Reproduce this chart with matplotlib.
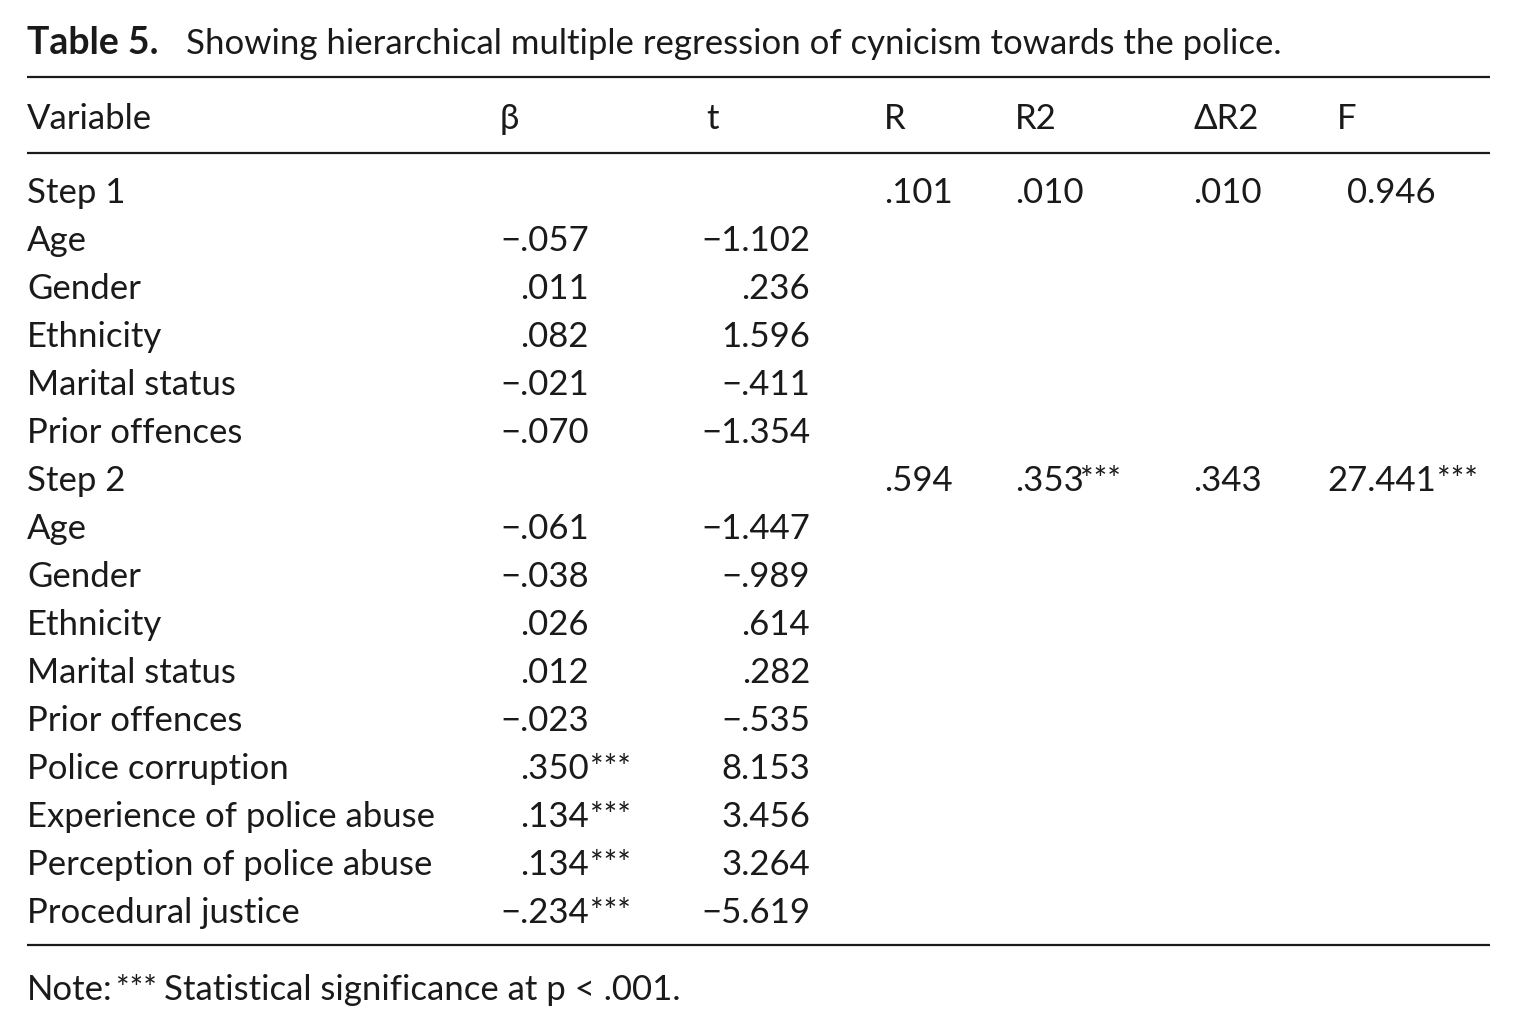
import matplotlib
matplotlib.use("Agg")
import matplotlib.pyplot as plt

plt.rcParams['font.family'] = ['Lato', 'DejaVu Sans']

# Table data
title_bold = "Table 5."
title_rest = "Showing hierarchical multiple regression of cynicism towards the police."
headers = ["Variable", "β", "t", "R", "R2", "ΔR2", "F"]

variables = ["Step 1", "Age", "Gender", "Ethnicity", "Marital status", "Prior offences",
             "Step 2", "Age", "Gender", "Ethnicity", "Marital status", "Prior offences",
             "Police corruption", "Experience of police abuse",
             "Perception of police abuse", "Procedural justice"]
beta = ["", "−.057", ".011", ".082", "−.021", "−.070",
        "", "−.061", "−.038", ".026", ".012", "−.023",
        ".350", ".134", ".134", "−.234"]
beta_sig = [False] * 12 + [True, True, True, True]
t_vals = ["", "−1.102", ".236", "1.596", "−.411", "−1.354",
          "", "−1.447", "−.989", ".614", ".282", "−.535",
          "8.153", "3.456", "3.264", "−5.619"]

# step-level statistics (row index -> values)
step_rows = [0, 6]
r_vals = [".101", ".594"]
r2_vals = [".010", ".353"]
r2_sig = [False, True]
dr2_vals = [".010", ".343"]
f_vals = ["0.946", "27.441"]
f_sig = [False, True]

note = "Statistical significance at p < .001."

W, H = 1516, 1033
fig = plt.figure(figsize=(W / 100, H / 100), dpi=100)
ax = fig.add_axes([0, 0, 1, 1])
ax.set_xlim(0, W)
ax.set_ylim(H, 0)
ax.axis('off')

fs = 25
col = '#1a1a1a'


def put(x, y, s, ha='left', size=fs, **kw):
    return ax.text(x, y, s, ha=ha, va='baseline', fontsize=size, color=col, **kw)


def stars(x, y):
    ax.text(x + 1, y - 1, "***", ha='left', va='baseline', fontsize=23, color=col)


# title
put(27, 54, title_bold, size=27, fontweight='bold')
put(186, 54, title_rest, size=25)

# rules
for yy in (77, 153, 945):
    ax.plot([27, 1490], [yy, yy], color=col, lw=1.6, solid_capstyle='butt')

# header
hx = [27, 500, 706, 884, 1015, 1193, 1337]
for x, h in zip(hx, headers):
    put(x, 129, h)

row_y0 = 203
row_dy = 48
x_beta_r = 589
x_t_r = 810
x_r = 884
x_r2 = 1015
x_dr2 = 1193
x_f_r = 1436

for i, name in enumerate(variables):
    y = row_y0 + i * row_dy
    put(27, y, name)
    if beta[i]:
        put(x_beta_r, y, beta[i], ha='right')
        if beta_sig[i]:
            stars(x_beta_r, y)
    if t_vals[i]:
        put(x_t_r, y, t_vals[i], ha='right')

for k, ri in enumerate(step_rows):
    y = row_y0 + ri * row_dy
    put(x_r, y, r_vals[k])
    put(x_r2, y, r2_vals[k])
    if r2_sig[k]:
        stars(x_r2 + 64, y)
    put(x_dr2, y, dr2_vals[k])
    put(x_f_r, y, f_vals[k], ha='right')
    if f_sig[k]:
        stars(x_f_r, y)

# note
put(27, 1000, "Note:", size=fs)
ax.text(116, 999, "***", ha='left', va='baseline', fontsize=23, color=col)
put(164, 1000, note, size=fs)

fig.savefig("out.png", dpi=100, facecolor='white')
